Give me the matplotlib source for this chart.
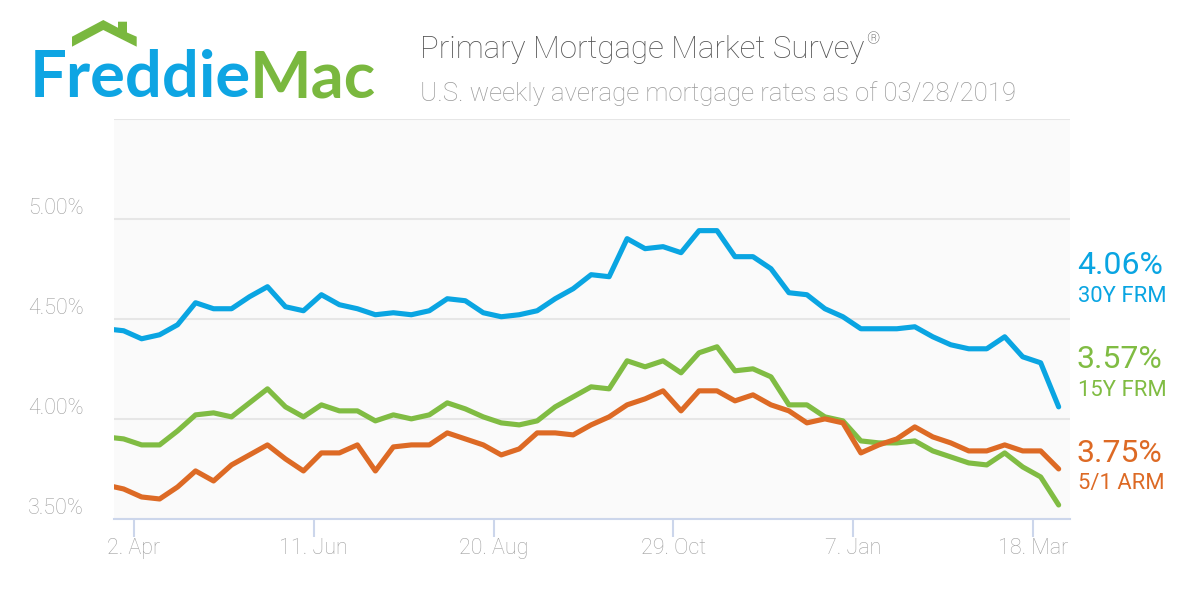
import matplotlib
matplotlib.use("Agg")
import matplotlib.pyplot as plt
from matplotlib.patches import Polygon
import pandas as pd

# Weekly PMMS rates, 22 Mar 2018 .. 28 Mar 2019 (Thursdays)
weeks = pd.date_range("2018-03-22", "2019-03-28", freq="W-THU")

frm30 = [4.45, 4.44, 4.40, 4.42, 4.47, 4.58, 4.55, 4.55, 4.61, 4.66,
         4.56, 4.54, 4.62, 4.57, 4.55, 4.52, 4.53, 4.52, 4.54, 4.60,
         4.59, 4.53, 4.51, 4.52, 4.54, 4.60, 4.65, 4.72, 4.71, 4.90,
         4.85, 4.86, 4.83, 4.94, 4.94, 4.81, 4.81, 4.75, 4.63, 4.62,
         4.55, 4.51, 4.45, 4.45, 4.45, 4.46, 4.41, 4.37, 4.35, 4.35,
         4.41, 4.31, 4.28, 4.06]
frm15 = [3.91, 3.90, 3.87, 3.87, 3.94, 4.02, 4.03, 4.01, 4.08, 4.15,
         4.06, 4.01, 4.07, 4.04, 4.04, 3.99, 4.02, 4.00, 4.02, 4.08,
         4.05, 4.01, 3.98, 3.97, 3.99, 4.06, 4.11, 4.16, 4.15, 4.29,
         4.26, 4.29, 4.23, 4.33, 4.36, 4.24, 4.25, 4.21, 4.07, 4.07,
         4.01, 3.99, 3.89, 3.88, 3.88, 3.89, 3.84, 3.81, 3.78, 3.77,
         3.83, 3.76, 3.71, 3.57]
arm51 = [3.67, 3.65, 3.61, 3.60, 3.66, 3.74, 3.69, 3.77, 3.82, 3.87,
         3.80, 3.74, 3.83, 3.83, 3.87, 3.74, 3.86, 3.87, 3.87, 3.93,
         3.90, 3.87, 3.82, 3.85, 3.93, 3.93, 3.92, 3.97, 4.01, 4.07,
         4.10, 4.14, 4.04, 4.14, 4.14, 4.09, 4.12, 4.07, 4.04, 3.98,
         4.00, 3.98, 3.83, 3.87, 3.90, 3.96, 3.91, 3.88, 3.84, 3.84,
         3.87, 3.84, 3.84, 3.75]

series_names = ["30Y FRM", "15Y FRM", "5/1 ARM"]
tick_dates = ["2018-04-02", "2018-06-11", "2018-08-20",
              "2018-10-29", "2019-01-07", "2019-03-18"]
y_ticks = [3.5, 4.0, 4.5, 5.0]

BLUE = "#0aa5e2"
GREEN = "#80bc43"
ORANGE = "#dd6a25"
FONT = ["Roboto", "DejaVu Sans"]

fig = plt.figure(figsize=(12, 6), dpi=100)
ax = fig.add_axes([114 / 1200, 1 - 519 / 600, 956 / 1200, 400.5 / 600])
ax.set_facecolor("#fafafa")

for vals, col in zip([frm30, frm15, arm51], [BLUE, GREEN, ORANGE]):
    ax.plot(weeks, vals, color=col, lw=3.7, solid_joinstyle="round",
            solid_capstyle="round")

ax.set_ylim(3.5, 5.5)
ax.set_xlim(pd.Timestamp("2018-03-25 06:00"), pd.Timestamp("2019-04-01 10:00"))

ax.set_yticks(y_ticks)
ax.set_yticklabels([f"{v:.2f}%" for v in y_ticks])
ax.yaxis.grid(True, color="#e6e6e6", lw=1.5)
ax.axhline(5.5, color="#e6e6e6", lw=1.5, zorder=0.5)
ax.set_axisbelow(True)
ax.tick_params(axis="y", length=0, pad=22, labelsize=15.5, labelcolor="#a0a0a0")
plt.setp(ax.get_yticklabels(), va="bottom", family=FONT, fontweight="light")

xt = pd.to_datetime(tick_dates)
ax.set_xticks(xt)
ax.set_xticklabels([d.strftime("%-d. %b") for d in xt])
ax.tick_params(axis="x", length=12.7, width=1.5, color="#ccd6eb", pad=1,
               labelsize=15.5, labelcolor="#a0a0a0")
plt.setp(ax.get_xticklabels(), family=FONT, fontweight="light")

for s in ["top", "left", "right"]:
    ax.spines[s].set_visible(False)
ax.spines["bottom"].set_color("#ccd6eb")
ax.spines["bottom"].set_linewidth(1.5)

# end-of-series labels on the right
last_vals = [frm30[-1], frm15[-1], arm51[-1]]
label_y = [265, 359, 453]
for name, val, col, yy in zip(series_names, last_vals, [BLUE, GREEN, ORANGE], label_y):
    fig.text(1077 / 1200, 1 - yy / 600, f"{val:.2f}%", color=col, fontsize=23,
             family=FONT, ha="left", va="center")
    fig.text(1078 / 1200, 1 - (yy + 31) / 600, name, color=col, fontsize=15.8,
             family=FONT, ha="left", va="center")

# titles
title = fig.text(420 / 1200, 1 - 58 / 600, "Primary Mortgage Market Survey",
                 color="#555555", fontsize=22.5, family=FONT, fontweight="light",
                 ha="left", va="baseline")
ax.annotate("®", xy=(1, 1), xycoords=title, xytext=(1, 2),
            textcoords="offset points", color="#555555", fontsize=12,
            family=FONT, fontweight="light", ha="left", va="top",
            annotation_clip=False)
fig.text(420 / 1200, 1 - 101 / 600,
         "U.S. weekly average mortgage rates as of 03/28/2019", color="#999999",
         fontsize=18.5, family=FONT, fontweight="light", ha="left", va="baseline")

# logo
fig.text(30 / 1200, 1 - 97 / 600, "Freddie", color="#0ea5e3", fontsize=47,
         family=["Lato", "DejaVu Sans"], fontweight="bold", ha="left", va="baseline")
fig.text(250 / 1200, 1 - 97 / 600, "Mac", color="#7ab83f", fontsize=47,
         family=["Lato", "DejaVu Sans"], fontweight="bold", ha="left", va="baseline")
roof_px = [(72, 36.7), (103.3, 20), (118, 27.8), (118, 21.7), (127, 21.7),
           (127, 32.5), (136.7, 36.7), (136.7, 46.7), (103.3, 30), (72, 46.7)]
roof = Polygon([(x / 1200, 1 - y / 600) for x, y in roof_px], closed=True,
               transform=fig.transFigure, facecolor="#7ab83f", edgecolor="none")
fig.patches.append(roof)

fig.savefig("out.png", dpi=100, facecolor="white")
